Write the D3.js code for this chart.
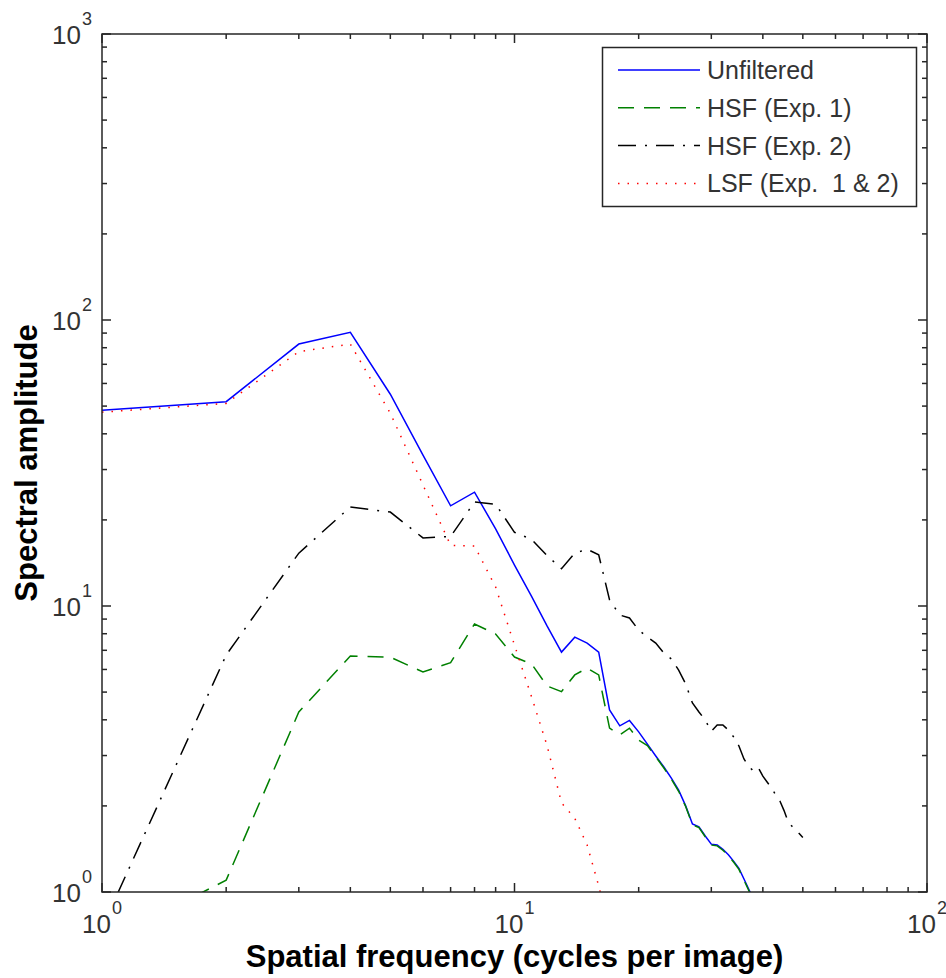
<!DOCTYPE html>
<html>
<head>
<meta charset="utf-8">
<script src="https://cdn.jsdelivr.net/npm/d3@7"></script>
<style>
  body { margin: 0; background: #fff; }
  svg { display: block; font-family: "Liberation Sans", Arial, sans-serif; }
</style>
</head>
<body>
<div id="wrapper"></div>
<script>
// spatial frequency bins (cycles per image)
const freqs = [1, 2, 3, 4, 5, 6, 7, 8, 9, 10, 11, 12, 13, 14, 15, 16, 17, 18, 19, 20,
    21, 22, 23, 24, 25, 26, 27, 28, 29, 30, 31, 32, 33, 34, 35, 36, 37, 38, 39, 40,
    41, 42, 43, 44, 45, 46, 47, 48, 49, 50]

const unfiltered = [48.4, 51.8, 82.4, 90.6, 55.0, 33.7, 22.4, 25.0, 18.6, 13.9, 10.8, 8.5, 6.9, 7.78, 7.42, 6.90,
    4.33, 3.81, 3.98, 3.63, 3.29, 2.99, 2.74, 2.50, 2.27, 2.00, 1.73, 1.69, 1.57, 1.47, 1.46, 1.41,
    1.35, 1.28, 1.21, 1.11, 1.02, 0.94]
const hsfExp1 = [0.66, 1.10, 4.26, 6.69, 6.62, 5.88, 6.34, 8.65, 7.98, 6.63, 6.27, 5.25, 5.02, 5.74, 6.07, 5.74,
    3.74, 3.54, 3.74, 3.40, 3.25, 2.97, 2.72, 2.48, 2.25, 1.99, 1.72, 1.68, 1.56, 1.46, 1.45, 1.40,
    1.34, 1.27, 1.20, 1.10, 1.01, 0.93]
const hsfExp2 = [0.75, 6.74, 15.3, 22.2, 21.3, 17.3, 17.5, 23.1, 22.7, 18.1, 17.1, 15.0, 13.5, 15.3, 15.8, 15.1,
    10.5, 9.30, 9.08, 8.24, 7.79, 7.42, 6.85, 6.53, 5.97, 5.34, 4.58, 4.26, 3.99, 3.65, 3.84, 3.84,
    3.68, 3.48, 3.24, 2.92, 2.74, 2.65, 2.72, 2.54, 2.42, 2.31, 2.18, 2.08, 1.93, 1.77, 1.70, 1.66,
    1.60, 1.55]
const lsf = [47.6, 51.1, 77.5, 82.4, 47.2, 26.5, 16.3, 16.2, 11.65, 7.30, 4.81, 3.24, 2.05, 1.81, 1.46, 1.05, 0.75]

const seriesNames = ["Unfiltered", "HSF (Exp. 1)", "HSF (Exp. 2)", "LSF (Exp.  1 & 2)"]

const xMajor = [1, 10, 100]
const yMajor = [1, 10, 100, 1000]
const xMinor = [2, 3, 4, 5, 6, 7, 8, 9, 20, 30, 40, 50, 60, 70, 80, 90]
const yMinor = [2, 3, 4, 5, 6, 7, 8, 9, 20, 30, 40, 50, 60, 70, 80, 90, 200, 300, 400, 500, 600, 700, 800, 900]

function drawChart() {

    const series = [
        { name: seriesNames[0], values: unfiltered, color: "#0000ff", dash: null },
        { name: seriesNames[1], values: hsfExp1, color: "#008000", dash: "16,10" },
        { name: seriesNames[2], values: hsfExp2, color: "#000000", dash: "18,9,2,9" },
        { name: seriesNames[3], values: lsf, color: "#ff0000", dash: "1.5,8" },
    ]

    // dimensions
    let dimensions = {
        width: 946,
        height: 978,
        margin: { top: 34, right: 19, bottom: 86, left: 102 },
    }
    dimensions.boundedWidth = dimensions.width - dimensions.margin.left - dimensions.margin.right
    dimensions.boundedHeight = dimensions.height - dimensions.margin.top - dimensions.margin.bottom

    const wrapper = d3.select("#wrapper")
        .append("svg")
        .attr("width", dimensions.width)
        .attr("height", dimensions.height)

    const bounds = wrapper.append("g")
        .attr("transform", `translate(${dimensions.margin.left},${dimensions.margin.top})`)

    // scales
    const xScale = d3.scaleLog()
        .domain([1, 100])
        .range([0, dimensions.boundedWidth])
    const yScale = d3.scaleLog()
        .domain([1, 1000])
        .range([dimensions.boundedHeight, 0])

    bounds.append("clipPath").attr("id", "plotClip")
        .append("rect")
        .attr("width", dimensions.boundedWidth)
        .attr("height", dimensions.boundedHeight)

    // lines
    const lineGenerator = d3.line()
        .x(d => xScale(d[0]))
        .y(d => yScale(d[1]))

    bounds.append("g")
        .attr("clip-path", "url(#plotClip)")
        .selectAll("path")
        .data(series)
        .join("path")
        .attr("d", s => lineGenerator(s.values.map((v, i) => [freqs[i], v])))
        .attr("fill", "none")
        .attr("stroke", s => s.color)
        .attr("stroke-width", 1.5)
        .attr("stroke-dasharray", s => s.dash)

    // ticks, inward on all four sides
    const axisColor = "#262626"
    const tickGroup = bounds.append("g")
        .attr("stroke", axisColor)
        .attr("stroke-width", 1.5)

    const addXTicks = (values, len) => {
        values.forEach(v => {
            const x = xScale(v)
            tickGroup.append("line").attr("x1", x).attr("x2", x)
                .attr("y1", dimensions.boundedHeight).attr("y2", dimensions.boundedHeight - len)
            tickGroup.append("line").attr("x1", x).attr("x2", x)
                .attr("y1", 0).attr("y2", len)
        })
    }
    const addYTicks = (values, len) => {
        values.forEach(v => {
            const y = yScale(v)
            tickGroup.append("line").attr("y1", y).attr("y2", y)
                .attr("x1", 0).attr("x2", len)
            tickGroup.append("line").attr("y1", y).attr("y2", y)
                .attr("x1", dimensions.boundedWidth).attr("x2", dimensions.boundedWidth - len)
        })
    }
    addXTicks(xMinor, 5)
    addXTicks(xMajor, 9)
    addYTicks(yMinor, 5)
    addYTicks(yMajor, 9)

    bounds.append("rect")
        .attr("width", dimensions.boundedWidth)
        .attr("height", dimensions.boundedHeight)
        .attr("fill", "none")
        .attr("stroke", axisColor)
        .attr("stroke-width", 1.5)

    // tick labels as 10^n
    const labelColor = "#333"
    const addPowerLabel = (sel, v) => {
        sel.append("tspan").text("10")
        sel.append("tspan")
            .attr("dx", 1)
            .attr("dy", -19)
            .style("font-size", "18px")
            .text(Math.round(Math.log10(v)))
    }

    xMajor.forEach(v => {
        const t = bounds.append("text")
            .attr("x", xScale(v))
            .attr("y", dimensions.boundedHeight + 41)
            .attr("text-anchor", "middle")
            .attr("fill", labelColor)
            .style("font-size", "26px")
        addPowerLabel(t, v)
    })
    yMajor.forEach(v => {
        const t = bounds.append("text")
            .attr("x", -10)
            .attr("y", yScale(v) + 9.5)
            .attr("text-anchor", "end")
            .attr("fill", labelColor)
            .style("font-size", "26px")
        addPowerLabel(t, v)
    })

    // axis titles
    bounds.append("text")
        .attr("x", dimensions.boundedWidth / 2)
        .attr("y", dimensions.boundedHeight + 75)
        .attr("text-anchor", "middle")
        .style("font-size", "31px")
        .style("font-weight", "bold")
        .text("Spatial frequency (cycles per image)")

    bounds.append("text")
        .attr("transform", `translate(${37 - dimensions.margin.left},${dimensions.boundedHeight / 2}) rotate(-90)`)
        .attr("text-anchor", "middle")
        .style("font-size", "31px")
        .style("font-weight", "bold")
        .text("Spectral amplitude")

    // legend
    const legend = wrapper.append("g")
    legend.append("rect")
        .attr("x", 602.5).attr("y", 47.5)
        .attr("width", 314).attr("height", 159)
        .attr("fill", "#fff")
        .attr("stroke", axisColor)
        .attr("stroke-width", 1.5)

    const rows = legend.selectAll("g.row")
        .data(series)
        .join("g")
        .attr("class", "row")
        .attr("transform", (d, i) => `translate(0,${70 + i * 37.8})`)

    rows.append("line")
        .attr("x1", 618).attr("x2", 700)
        .attr("stroke", d => d.color)
        .attr("stroke-width", 1.5)
        .attr("stroke-dasharray", d => d.dash)

    rows.append("text")
        .attr("x", 707)
        .attr("y", 9)
        .attr("fill", labelColor)
        .style("font-size", "25px")
        .style("white-space", "pre")
        .text(d => d.name)
}
drawChart()
</script>
</body>
</html>
